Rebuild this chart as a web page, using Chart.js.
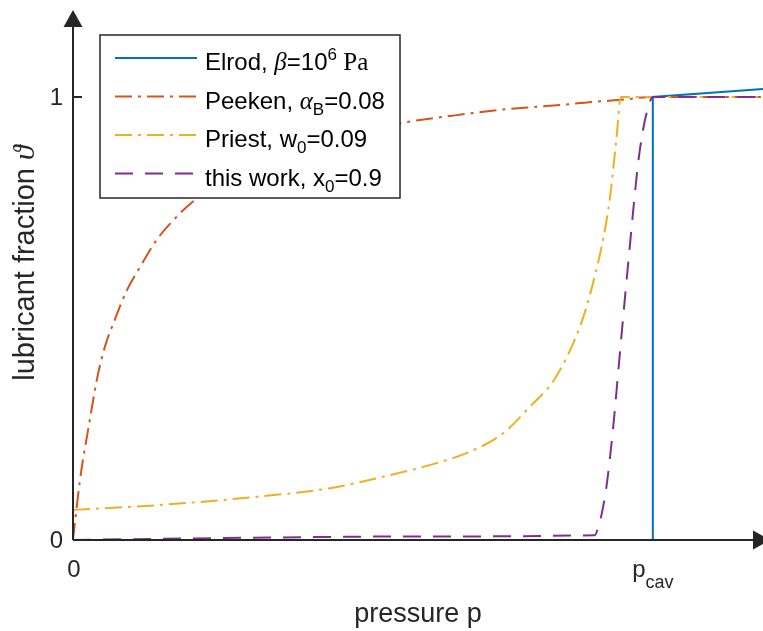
<!DOCTYPE html>
<html>
<head>
<meta charset="utf-8">
<script src="https://cdn.jsdelivr.net/npm/chart.js@4.4.1/dist/chart.umd.min.js"></script>
<style>
    html, body { margin: 0; padding: 0; background: #ffffff; }
    #wrap { width: 763px; height: 631px; }
</style>
</head>
<body>
<div id="wrap"><canvas id="fractionChart" width="763" height="631"></canvas></div>
<script>
(function() {
    "use strict";

    // x: pressure relative to p_cav, y: lubricant fraction
    var elrodX = [0, 1, 1, 1.19];
    var elrodY = [0, 0, 1, 1.018];

    var peekenX = [0, 0.012, 0.029, 0.041, 0.055, 0.072, 0.093, 0.116, 0.144, 0.179, 0.207, 0.25, 0.3, 0.35, 0.4, 0.45, 0.5, 0.565, 0.65, 0.736, 0.84, 0.897, 0.941, 1, 1.19];
    var peekenY = [0, 0.135, 0.271, 0.361, 0.436, 0.497, 0.564, 0.617, 0.677, 0.73, 0.764, 0.805, 0.84, 0.867, 0.889, 0.907, 0.922, 0.941, 0.957, 0.971, 0.982, 0.989, 0.993, 1, 1];

    var priestX = [0, 0.15, 0.32, 0.443, 0.558, 0.615, 0.684, 0.742, 0.788, 0.829, 0.863, 0.884, 0.902, 0.914, 0.926, 0.937, 0.945, 1, 1.19];
    var priestY = [0.068, 0.079, 0.098, 0.117, 0.15, 0.169, 0.199, 0.241, 0.301, 0.36, 0.445, 0.519, 0.607, 0.677, 0.772, 0.903, 1, 1, 1];

    var workX = [0, 0.3, 0.6, 0.9, 0.906, 0.912, 0.921, 0.932, 0.941, 0.95, 0.959, 0.967, 0.975, 0.983, 0.99, 1, 1.19];
    var workY = [0, 0.005, 0.008, 0.011, 0.03, 0.06, 0.13, 0.26, 0.39, 0.52, 0.645, 0.755, 0.855, 0.925, 0.967, 1, 1];

    var yTickValues = [0, 1];
    var yTickLabels = ["0", "1"];

    var SANS = "\"Liberation Sans\", Arial, Helvetica, sans-serif";
    var SERIF = "\"Liberation Serif\", \"Times New Roman\", serif";
    var AXIS_COLOR = "#262626";

    function toPoints(xs, ys) {
        return xs.map(function(x, i) {
            return { x: x, y: ys[i] };
        });
    }

    function richWidth(ctx, parts) {
        var w = 0;
        parts.forEach(function(p) {
            ctx.font = p.font;
            w += ctx.measureText(p.t).width;
        });
        return w;
    }

    function drawRich(ctx, x, y, parts) {
        ctx.textAlign = "left";
        ctx.textBaseline = "alphabetic";
        parts.forEach(function(p) {
            ctx.font = p.font;
            ctx.fillText(p.t, x, y + (p.dy || 0));
            x += ctx.measureText(p.t).width;
        });
    }

    var legendRows = [
        { color: "#0072BD", dash: [], parts: [
            { t: "Elrod, ", font: "24px " + SANS },
            { t: "\u03B2", font: "italic 25px " + SERIF },
            { t: "=10", font: "24px " + SANS },
            { t: "6", font: "17px " + SANS, dy: -10 },
            { t: " Pa", font: "25px " + SERIF }
        ] },
        { color: "#D95319", dash: [17, 6, 3, 6], parts: [
            { t: "Peeken, ", font: "24px " + SANS },
            { t: "\u03B1", font: "italic 25px " + SERIF },
            { t: "B", font: "17px " + SANS, dy: 6 },
            { t: "=0.08", font: "24px " + SANS }
        ] },
        { color: "#EDB120", dash: [17, 6, 3, 6], parts: [
            { t: "Priest, w", font: "24px " + SANS },
            { t: "0", font: "17px " + SANS, dy: 6 },
            { t: "=0.09", font: "24px " + SANS }
        ] },
        { color: "#7E2F8E", dash: [18, 12], parts: [
            { t: "this work, x", font: "24px " + SANS },
            { t: "0", font: "17px " + SANS, dy: 6 },
            { t: "=0.9", font: "24px " + SANS }
        ] }
    ];

    var decorPlugin = {
        id: "decor",
        afterDatasetsDraw: function(chart) {
            var ctx = chart.ctx;
            var xs = chart.scales.x;
            var ys = chart.scales.y;
            var x0 = xs.getPixelForValue(0);
            var y0 = ys.getPixelForValue(0);
            var y1 = ys.getPixelForValue(1);
            var xc = xs.getPixelForValue(1);

            ctx.save();
            ctx.strokeStyle = AXIS_COLOR;
            ctx.fillStyle = AXIS_COLOR;
            ctx.lineWidth = 2;
            ctx.setLineDash([]);

            // axes with arrow heads
            ctx.beginPath();
            ctx.moveTo(x0, y0);
            ctx.lineTo(x0, 27);
            ctx.moveTo(x0, y0);
            ctx.lineTo(753, y0);
            ctx.moveTo(x0, y1);
            ctx.lineTo(x0 + 9, y1);
            ctx.stroke();

            ctx.beginPath();
            ctx.moveTo(x0, 10);
            ctx.lineTo(x0 - 9.5, 27);
            ctx.lineTo(x0 + 9.5, 27);
            ctx.closePath();
            ctx.fill();

            ctx.beginPath();
            ctx.moveTo(770, y0);
            ctx.lineTo(753, y0 - 9.5);
            ctx.lineTo(753, y0 + 9.5);
            ctx.closePath();
            ctx.fill();

            // tick labels
            ctx.fillStyle = "#262626";
            ctx.font = "24px " + SANS;
            ctx.textAlign = "right";
            ctx.textBaseline = "middle";
            yTickValues.forEach(function(v, i) {
                ctx.fillText(yTickLabels[i], 63, ys.getPixelForValue(v) + 1);
            });

            ctx.textAlign = "center";
            ctx.textBaseline = "alphabetic";
            ctx.fillText("0", x0 + 1, 577);

            var pcav = [
                { t: "p", font: "24px " + SANS },
                { t: "cav", font: "18px " + SANS, dy: 11 }
            ];
            drawRich(ctx, xc - richWidth(ctx, pcav) / 2, 577, pcav);

            // axis titles
            ctx.fillStyle = "#262626";
            ctx.font = "27px " + SANS;
            ctx.textAlign = "center";
            ctx.fillText("pressure p", (x0 + xs.right) / 2, 622);

            var ylab = [
                { t: "lubricant fraction ", font: "29px " + SANS },
                { t: "\u03D1", font: "italic 30px " + SERIF }
            ];
            ctx.save();
            ctx.translate(34, 263);
            ctx.rotate(-Math.PI / 2);
            drawRich(ctx, -richWidth(ctx, ylab) / 2, 0, ylab);
            ctx.restore();

            // legend
            ctx.fillStyle = "#ffffff";
            ctx.fillRect(100, 35, 300, 163);
            ctx.strokeStyle = "#262626";
            ctx.lineWidth = 1.5;
            ctx.strokeRect(100, 35, 300, 163);

            legendRows.forEach(function(row, i) {
                var ly = 58 + i * 38.5;
                ctx.strokeStyle = row.color;
                ctx.lineWidth = 2;
                ctx.setLineDash(row.dash);
                ctx.beginPath();
                ctx.moveTo(115, ly);
                ctx.lineTo(197, ly);
                ctx.stroke();
                ctx.setLineDash([]);
                ctx.fillStyle = "#000000";
                drawRich(ctx, 205, ly + 12, row.parts);
            });

            ctx.restore();
        }
    };

    function lineSet(label, xs, ys, color, dash, order, smooth) {
        return {
            label: label,
            data: toPoints(xs, ys),
            borderColor: color,
            backgroundColor: color,
            borderWidth: 2,
            borderDash: dash,
            pointRadius: 0,
            fill: false,
            order: order,
            cubicInterpolationMode: smooth ? "monotone" : "default",
            tension: 0,
            clip: false
        };
    }

    document.addEventListener("DOMContentLoaded", function() {
        var canvas = document.getElementById("fractionChart");

        new Chart(canvas.getContext("2d"), {
            type: "line",
            data: {
                datasets: [
                    lineSet("Elrod", elrodX, elrodY, "#0072BD", [], 3, false),
                    lineSet("Peeken", peekenX, peekenY, "#D95319", [17, 6, 3, 6], 2, true),
                    lineSet("Priest", priestX, priestY, "#EDB120", [17, 6, 3, 6], 1, true),
                    lineSet("this work", workX, workY, "#7E2F8E", [18, 12], 0, true)
                ]
            },
            options: {
                responsive: false,
                animation: false,
                layout: {
                    padding: { left: 73, right: 0, top: 8.4, bottom: 91 }
                },
                plugins: {
                    legend: { display: false },
                    tooltip: { enabled: false }
                },
                scales: {
                    x: { type: "linear", min: 0, max: 1.19, display: false },
                    y: { type: "linear", min: 0, max: 1.2, display: false }
                }
            },
            plugins: [decorPlugin]
        });
    });
})();
</script>
</body>
</html>
